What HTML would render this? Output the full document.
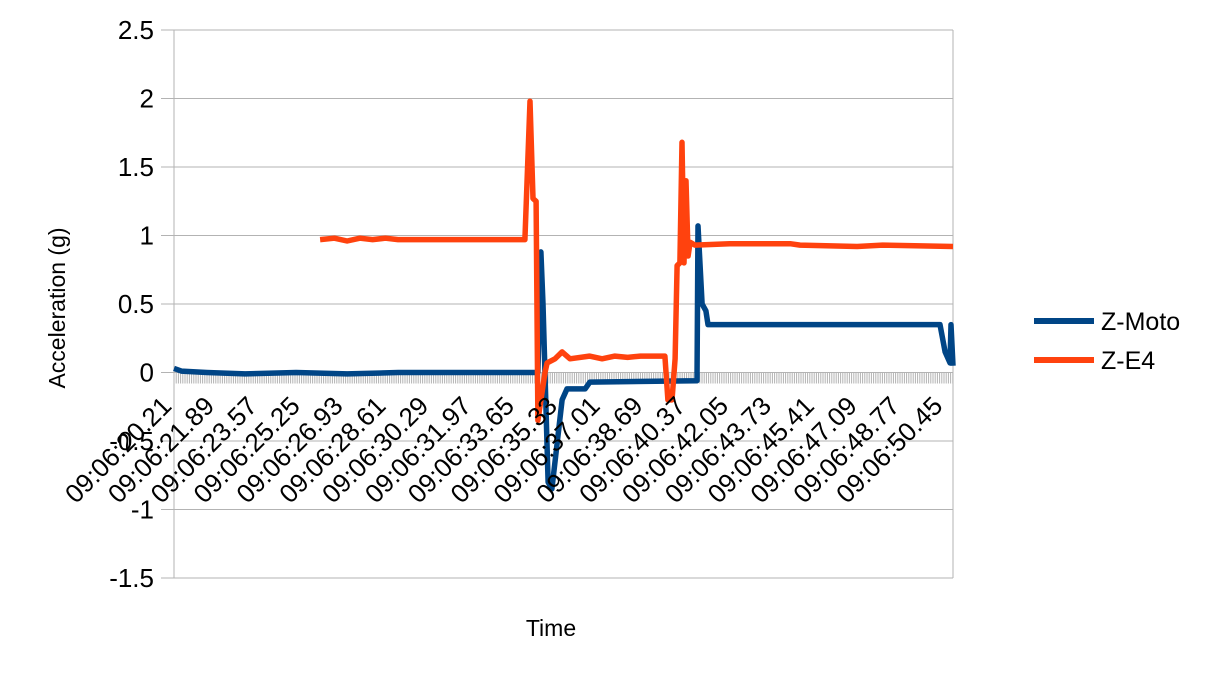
<!DOCTYPE html>
<html><head><meta charset="utf-8"><style>
body{margin:0;background:#fff;}
svg{display:block;font-family:"Liberation Sans",sans-serif;}
</style></head><body>
<svg id="c" width="1209" height="680"></svg>
<script>
const yTicks=[2.5,2,1.5,1,0.5,0,-0.5,-1,-1.5];
const yTickLabels=["2.5","2","1.5","1","0.5","0","-0.5","-1","-1.5"];
const xTickLabels=["09:06:20.21","09:06:21.89","09:06:23.57","09:06:25.25","09:06:26.93","09:06:28.61","09:06:30.29","09:06:31.97","09:06:33.65","09:06:35.33","09:06:37.01","09:06:38.69","09:06:40.37","09:06:42.05","09:06:43.73","09:06:45.41","09:06:47.09","09:06:48.77","09:06:50.45"];
const xTickTimes=[20.21,21.89,23.57,25.25,26.93,28.61,30.29,31.97,33.65,35.33,37.01,38.69,40.37,42.05,43.73,45.41,47.09,48.77,50.45];
const motoT=[20.21,20.5,21.5,23,25,27,29,31,33,34.48,34.60,34.68,34.88,35.03,35.43,35.62,36.33,36.52,40.72,40.76,40.92,41.07,41.15,50.25,50.45,50.64,50.68,50.76];
const motoV=[0.03,0.01,0,-0.01,0,-0.01,0,0,0,0,0.88,0.5,-0.8,-0.85,-0.2,-0.12,-0.12,-0.07,-0.06,1.07,0.5,0.45,0.35,0.35,0.15,0.07,0.35,0.05];
const e4T=[25.94,26.5,27,27.5,28,28.5,29,31,33.97,34.17,34.29,34.41,34.48,34.76,34.84,35.15,35.43,35.74,36.5,37,37.5,38,38.5,39.46,39.58,39.74,39.86,39.94,40.05,40.13,40.21,40.29,40.37,40.45,40.64,42,44.37,44.76,47,48,50.76];
const e4V=[0.97,0.98,0.96,0.98,0.97,0.98,0.97,0.97,0.97,1.98,1.27,1.25,-0.35,0,0.07,0.1,0.15,0.1,0.12,0.1,0.12,0.11,0.12,0.12,-0.2,-0.2,0.1,0.78,0.8,1.68,0.8,1.4,0.85,0.95,0.93,0.94,0.94,0.93,0.92,0.93,0.92];

const L=174,R=953,T=30,B=578,yMin=-1.5,yMax=2.5,tMin=20.21,pxPerS=25.5;
const X=t=>L+(t-tMin)*pxPerS;
const Y=v=>T+(yMax-v)/(yMax-yMin)*(B-T);
const svg=document.getElementById('c');
const NS='http://www.w3.org/2000/svg';
function mk(tag,attrs,parent){const e=document.createElementNS(NS,tag);for(const k in attrs)e.setAttribute(k,attrs[k]);(parent||svg).appendChild(e);return e;}

yTicks.forEach((v,i)=>{
  const g=mk('line',{x1:L-13,x2:R,y1:Y(v),y2:Y(v),stroke:'#b3b3b3','stroke-width':1});
  
  
  const t=mk('text',{x:154,y:Y(v)+9,'text-anchor':'end','font-size':26,fill:'#000'});
  t.textContent=yTickLabels[i];
  
  
});
const lb=mk('line',{x1:L,x2:L,y1:T,y2:B,stroke:'#b3b3b3'});


const rb=mk('line',{x1:R,x2:R,y1:T,y2:B,stroke:'#b3b3b3'});


let d='';
for(let x=L;x<=R;x+=2.2){d+='M'+x.toFixed(1)+' '+Y(0)+'V'+(Y(0)+11);}
const mt=mk('path',{d:d,stroke:'#b3b3b3','stroke-width':1});



function series(ts,vs,color,name){
  const p=ts.map((t,i)=>X(t).toFixed(1)+','+Y(vs[i]).toFixed(1)).join(' ');
  const e=mk('polyline',{points:p,fill:'none',stroke:color,'stroke-width':5.5,'stroke-linejoin':'round'});
  
  
}
series(motoT,motoV,'#004586','series-z-moto');
series(e4T,e4V,'#ff420e','series-z-e4');

xTickTimes.forEach((t,i)=>{
  const x=X(t)-1,y=Y(0)+35;
  const e=mk('text',{x:x,y:y,'text-anchor':'end','font-size':26,fill:'#000',transform:'rotate(-45 '+x+' '+y+')'});
  e.textContent=xTickLabels[i];
  
  
});
</script>
<svg style="position:absolute;left:0;top:0" width="1209" height="680">
<text x="551" y="636" text-anchor="middle" font-size="23" font-family="Liberation Sans">Time</text>
<text x="0" y="0" transform="translate(65 308) rotate(-90)" text-anchor="middle" font-size="23" font-family="Liberation Sans">Acceleration (g)</text>
<g>
<line x1="1034" x2="1094" y1="321" y2="321" stroke="#004586" stroke-width="6"/>
<text x="1101" y="330" font-size="25" font-family="Liberation Sans">Z-Moto</text></g>
<g>
<line x1="1034" x2="1094" y1="360" y2="360" stroke="#ff420e" stroke-width="6"/>
<text x="1101" y="369" font-size="25" font-family="Liberation Sans">Z-E4</text></g>
</svg>
</body></html>
